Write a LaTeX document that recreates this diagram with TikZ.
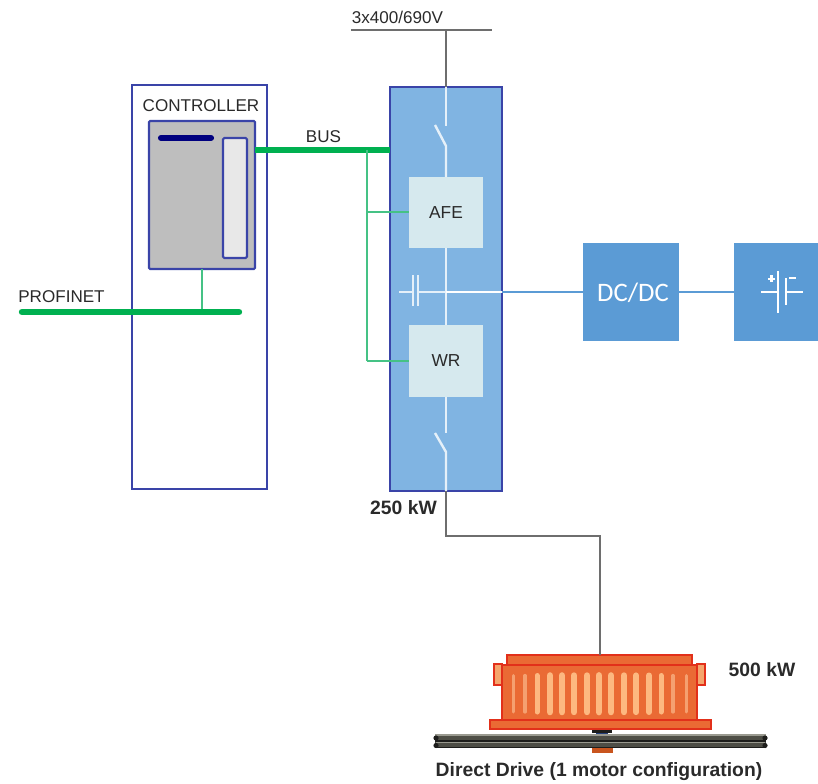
\documentclass[tikz,border=0pt]{standalone}
\usepackage{fontspec}
\setmainfont{Liberation Sans}
\newfontfamily\calfont{Carlito}
\definecolor{frameblue}{HTML}{3A44A8}
\definecolor{navybar}{HTML}{00007F}
\definecolor{panelblue}{HTML}{80B4E2}
\definecolor{paleblue}{HTML}{D6E9EE}
\definecolor{dcblue}{HTML}{5B9BD5}
\definecolor{ctrlgrey}{HTML}{BEBEBE}
\definecolor{slotgrey}{HTML}{E8E8E8}
\definecolor{busgreen}{HTML}{00B050}
\definecolor{thingreen}{HTML}{45C285}
\definecolor{wiregrey}{HTML}{6E6E6E}
\definecolor{motorfill}{HTML}{EA6A34}
\definecolor{motoredge}{HTML}{E2301A}
\definecolor{motorfin}{HTML}{FDB880}
\definecolor{motorfinpale}{HTML}{F5A070}
\definecolor{lugfill}{HTML}{F5A56C}
\definecolor{railgrey}{HTML}{4E4E46}
\definecolor{raillight}{HTML}{9A9A90}
\definecolor{raildark}{HTML}{1E1E1C}
\definecolor{textdark}{HTML}{2A2A2A}
\definecolor{hubblue}{HTML}{25407A}
\definecolor{huborange}{HTML}{C9551E}
\usetikzlibrary{calc}
\tikzset{
  px/.style={x=0.75pt,y=-0.75pt},
  boxbase/.style={rectangle,inner sep=0pt,outer sep=0pt},
  outerframe/.style={boxbase,draw=frameblue,line width=1.5pt},
  ctrlbody/.style={boxbase,draw=frameblue,line width=1.6pt,fill=ctrlgrey,rounded corners=0.8pt},
  slot/.style={boxbase,draw=frameblue,line width=1.6pt,fill=slotgrey,rounded corners=1pt},
  panel/.style={boxbase,draw=frameblue,line width=1.8pt,fill=panelblue},
  module/.style={boxbase,fill=paleblue,text=textdark,font=\fontsize{13}{13}\selectfont},
  dcbox/.style={boxbase,fill=dcblue},
  label/.style={inner sep=0pt,outer sep=0pt,text=textdark,font=\fontsize{12.8}{13}\selectfont},
  boldlabel/.style={inner sep=0pt,outer sep=0pt,text=textdark,font=\bfseries\fontsize{14.5}{15}\selectfont},
  busline/.style={busgreen,line width=3.9pt},
  tapline/.style={thingreen,line width=1.5pt},
  wire/.style={wiregrey,line width=1.6pt},
  whitewire/.style={white!80!panelblue,line width=1.8pt},
  dclink/.style={white,line width=2pt},
  bluewire/.style={dcblue,line width=2.2pt},
  battline/.style={white,line width=1.7pt},
  fin/.style={line cap=round},
  motorpart/.style={boxbase,draw=motoredge,line width=1.3pt,fill=motorfill},
}
\begin{document}
\begin{tikzpicture}[px]
\useasboundingbox (0,0) rectangle (818,784);

% free points on the wires
\coordinate (topbar) at (446,30);
\coordinate (busj) at (367,150);
\coordinate (afetap) at (367,212);
\coordinate (wrtap) at (367,361);
\coordinate (profj) at (202,312);
\coordinate (profl) at (22,312);
\coordinate (profr) at (239,312);
\coordinate (linkj) at (446,292);
\coordinate (capl) at (413,292);
\coordinate (capr) at (418,292);
\coordinate (capend) at (399,292);
\coordinate (sw1a) at (446,126);
\coordinate (sw1b) at (446,146);
\coordinate (sw1c) at (435,125);
\coordinate (sw2a) at (446,433);
\coordinate (sw2b) at (446,452);
\coordinate (sw2c) at (435,433);
\coordinate (bendl) at (446,536);
\coordinate (bendr) at (600,536);

% controller
\node[outerframe,minimum width=101.25pt,minimum height=303pt] (ctrl) at (199.5,287) {};
\node[label,anchor=center] (ctrllabel) at (201,105.5) {CONTROLLER};
\node[ctrlbody,minimum width=79.5pt,minimum height=111pt] (plc) at (202,195) {};
\node[slot,minimum width=18pt,minimum height=90pt] (plcslot) at (235,198) {};
\coordinate (ledl) at (161,138);
\coordinate (ledr) at (211,138);
\draw[navybar,line width=4.6pt,line cap=round] (ledl) -- (ledr);

% converter panel
\node[panel,minimum width=84pt,minimum height=303pt] (conv) at (446,289) {};

% supply
\coordinate (barl) at (351,30);
\coordinate (barr) at (492,30);
\draw[wiregrey,line width=1.4pt] (barl) -- (barr);
\node[label,anchor=center] (supply) at (397.5,17) {3x400/690V};
\draw[wire] (topbar) -- (conv.north);

% modules
\node[module,minimum width=55.5pt,minimum height=53.25pt] (afe) at (446,212.5) {AFE};
\node[module,minimum width=55.5pt,minimum height=54pt] (wr) at (446,361) {WR};

% inner wiring
\draw[whitewire] (conv.north) -- (sw1a);
\draw[whitewire] (sw1c) -- (sw1b) -- (afe.north);
\draw[whitewire] (afe.south) -- (wr.north);
\draw[whitewire] (wr.south) -- (sw2a);
\draw[whitewire] (sw2c) -- (sw2b) -- (conv.south);
\draw[whitewire] (capend) -- (capl);
\draw[whitewire] (capr) -- (linkj);
\draw[whitewire] (413,275) -- (413,306);
\draw[whitewire] (418,275) -- (418,306);
\draw[dclink] (linkj) -- (conv.east|-linkj);

% bus and tap lines
\draw[busline] (plc.east|-busj) -- (conv.west|-busj);
\node[label,anchor=center] (buslabel) at (323.5,137) {BUS};
\draw[tapline] (busj) -- (wrtap);
\draw[tapline] (afetap) -- (afe.west|-afetap);
\draw[tapline] (wrtap) -- (wr.west|-wrtap);
\draw[tapline] (plc.south-|profj) -- (profj);
\draw[busgreen,line width=4.8pt,line cap=round] (profl) -- (profr);
\node[label,anchor=center] (proflabel) at (61.5,297) {PROFINET};

% DC side
\node[dcbox,minimum width=72pt,minimum height=73.5pt] (dcdc) at (631,292) {};
\node[text=white,inner sep=0pt,font=\calfont\fontsize{20}{20}\selectfont] (dcdclabel) at (633,293) {DC/DC};
\node[dcbox,minimum width=63pt,minimum height=73.5pt] (batt) at (776,292) {};
\draw[bluewire] (conv.east|-linkj) -- (dcdc.west);
\draw[bluewire] (dcdc.east) -- (batt.west);
\draw[battline] (761,292) -- (778,292);
\draw[battline] (778,271) -- (778,313);
\draw[battline] (786,278) -- (786,305);
\draw[battline] (786,292) -- (803,292);
\draw[battline] (789,278) -- (796,278);
\draw[white,line width=2.2pt] (768,279) -- (775,279);
\draw[white,line width=2.2pt] (771.5,275.5) -- (771.5,282.5);

% rating
\node[boldlabel,anchor=center] (ratinga) at (403.5,508) {250 kW};

% feed to motor
\node[motorpart,minimum width=138.75pt,minimum height=7.5pt] (motortop) at (599.5,660) {};
\draw[wire] (conv.south) -- (bendl) -- (bendr) -- (bendr|-motortop.north);

% track
\fill[raildark] (592,729) rectangle (612,733);
\fill[hubblue] (596,733) rectangle (608,736);
\fill[huborange] (592,748) rectangle (613,753);
\fill[railgrey] (435,735) rectangle (766,748);
\draw[raillight,line width=0.8pt] (435,735) -- (766,735);
\draw[raillight,line width=0.9pt] (436,742.5) -- (765,742.5);
\draw[raildark,line width=1pt] (435,741) -- (766,741);
\draw[raildark,line width=1pt] (435,747.5) -- (766,747.5);
\fill[raildark] (436,738) circle (2.6) (436,745.5) circle (2.6) (765,738) circle (2.6) (765,745.5) circle (2.6);

% motor
\node[motorpart,fill=lugfill,minimum width=6pt,minimum height=15.75pt] (lugl) at (498,674.5) {};
\node[motorpart,fill=lugfill,minimum width=6pt,minimum height=15.75pt] (lugr) at (701,674.5) {};
\node[motorpart,minimum width=146.25pt,minimum height=41.25pt] (motorbody) at (599.5,692.5) {};
\node[motorpart,minimum width=165.75pt,minimum height=6.75pt] (motorbase) at (600.5,724.5) {};
\foreach \fx/\fw/\fc in {513/3/motorfinpale,525/3.2/motorfinpale,537/5/motorfin,550/6.6/motorfin,562/6.6/motorfin,574/6.4/motorfin,587/6.4/motorfin,599/6.8/motorfin,611/6.6/motorfin,624/6.4/motorfin,636/6.2/motorfin,649/6/motorfin,661/5/motorfin,673/3.2/motorfinpale,686/3/motorfinpale}
  \draw[fin,\fc,line width=0.75pt*\fw] (\fx,675.5) -- (\fx,712);

\node[boldlabel,anchor=center] (ratingb) at (762,670) {500 kW};
\node[boldlabel,anchor=center] (caption) at (599,771.5) {Direct Drive (1 motor configuration)};
\end{tikzpicture}
\end{document}
